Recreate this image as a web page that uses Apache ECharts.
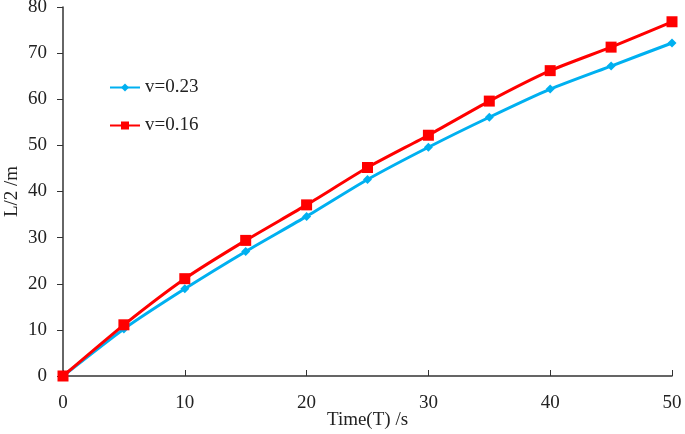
<!DOCTYPE html>
<html><head><meta charset="utf-8">
<script src="https://cdn.jsdelivr.net/npm/echarts@6/dist/echarts.min.js"></script>
<style>html,body{margin:0;padding:0;background:#fff}#c{width:685px;height:434px}</style>
</head><body><div id="c"></div>
<script>
const times = [0,5,10,15,20,25,30,35,40,45,50];
const v023 = [0,10.2,18.9,27.0,34.6,42.6,49.6,56.1,62.2,67.2,72.2];
const v016 = [0,11.1,21.1,29.4,37.1,45.2,52.2,59.6,66.2,71.3,76.8];
const names = ['v=0.23','v=0.16'];
const font = 'Liberation Serif';
const fs = 19;
const chart = echarts.init(document.getElementById('c'));
chart.setOption({
  animation:false,
  textStyle:{fontFamily:font},
  grid:{left:63,right:13,top:7,bottom:58,containLabel:false,outerBoundsMode:'none'},
  legend:{
    orient:'vertical', left:104, top:73, itemGap:19, itemWidth:30, itemHeight:10,
    textStyle:{fontFamily:font,fontSize:fs,color:'#222'},
    data:names
  },
  xAxis:{
    type:'value', min:0, max:50, interval:10,
    name:'Time(T) /s', nameLocation:'middle', nameGap:35, nameMoveOverlap:false,
    nameTextStyle:{fontFamily:font,fontSize:fs,color:'#222'},
    axisLine:{lineStyle:{color:'#333',width:1.5}},
    axisTick:{inside:true,length:6,lineStyle:{color:'#333'}},
    axisLabel:{fontFamily:font,fontSize:fs,color:'#222',margin:18},
    splitLine:{show:false}
  },
  yAxis:{
    type:'value', min:0, max:80, interval:10,
    name:'L/2 /m', nameLocation:'middle', nameGap:41, nameMoveOverlap:false,
    nameTextStyle:{fontFamily:font,fontSize:fs,color:'#222'},
    axisLine:{show:true,lineStyle:{color:'#333',width:1.5}},
    axisTick:{show:true,length:6,lineStyle:{color:'#333'}},
    axisLabel:{fontFamily:font,fontSize:fs,color:'#222',margin:16},
    splitLine:{show:false}
  },
  series:[
    {name:names[0],type:'line',smooth:0.2,data:times.map((t,i)=>[t,v023[i]]),
     symbol:'diamond',symbolSize:9,lineStyle:{color:'#00B0F0',width:3},
     itemStyle:{color:'#00B0F0'},z:2},
    {name:names[1],type:'line',smooth:0.2,data:times.map((t,i)=>[t,v016[i]]),
     symbol:'rect',symbolSize:11,lineStyle:{color:'#FF0000',width:3},
     itemStyle:{color:'#FF0000'},z:3}
  ]
});
</script></body></html>
